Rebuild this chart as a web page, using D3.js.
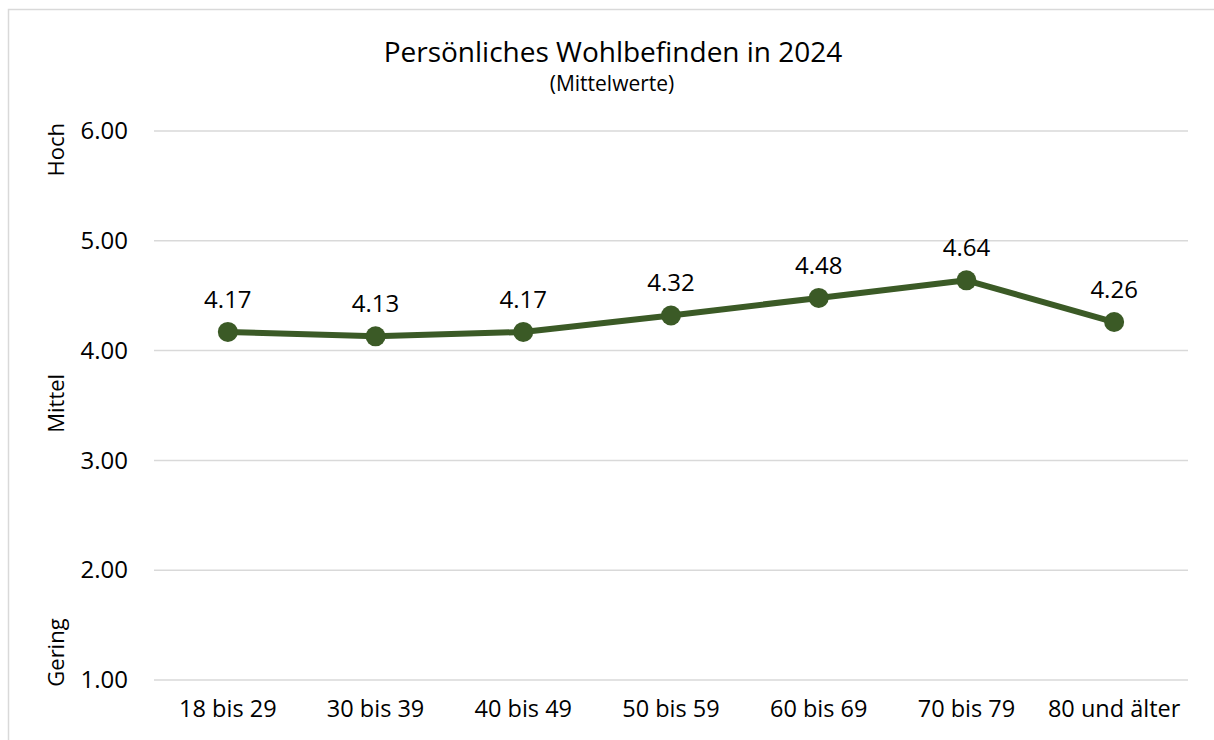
<!DOCTYPE html>
<html>
<head>
<meta charset="utf-8">
<script src="https://cdn.jsdelivr.net/npm/d3@7"></script>
<style>
  html, body { margin: 0; padding: 0; background: #fff; }
  svg { display: block; font-family: "Open Sans", "Noto Sans", sans-serif; }
</style>
</head>
<body>
<svg id="chart" width="1214" height="740"></svg>
<script>
const categories = ["18 bis 29", "30 bis 39", "40 bis 49", "50 bis 59", "60 bis 69", "70 bis 79", "80 und älter"];
const values = [4.17, 4.13, 4.17, 4.32, 4.48, 4.64, 4.26];
const valueLabels = ["4.17", "4.13", "4.17", "4.32", "4.48", "4.64", "4.26"];
const yTicks = [1, 2, 3, 4, 5, 6];
const yLevelLabels = [{text: "Hoch", v: 5.83}, {text: "Mittel", v: 3.52}, {text: "Gering", v: 1.25}];
const titleText = "Persönliches Wohlbefinden in 2024";
const subtitleText = "(Mittelwerte)";

const svg = d3.select("#chart");
const W = 1214, H = 740;
const m = {left: 154, right: 26, top: 131, bottom: 60};

// chart border
svg.append("rect").attr("x", 8.5).attr("y", 9.5).attr("width", W + 20).attr("height", H + 20)
  .attr("fill", "none").attr("stroke", "#d9d9d9").attr("stroke-width", 1.5);

const x = d3.scaleBand().domain(categories).range([m.left, W - m.right]);
const y = d3.scaleLinear().domain([1, 6]).range([H - m.bottom, m.top]);

// gridlines
svg.append("g").selectAll("line").data(yTicks).join("line")
  .attr("x1", m.left).attr("x2", W - m.right)
  .attr("y1", d => y(d)).attr("y2", d => y(d))
  .attr("stroke", "#d9d9d9").attr("stroke-width", 1.5);

// y axis labels
const yAxis = d3.axisLeft(y).tickValues(yTicks).tickFormat(d3.format(".2f")).tickSize(0).tickPadding(26);
const gy = svg.append("g").attr("transform", `translate(${m.left},0)`).call(yAxis);
gy.select(".domain").remove();
gy.selectAll("text").attr("font-size", 24).attr("fill", "#000").attr("font-family", "Open Sans");

// x axis labels
const xAxis = d3.axisBottom(x).tickSize(0).tickPadding(20);
const gx = svg.append("g").attr("transform", `translate(0,${H - m.bottom})`).call(xAxis);
gx.select(".domain").remove();
gx.selectAll("text").attr("font-size", 23.5).attr("fill", "#000").attr("font-family", "Open Sans");

// level labels (rotated)
svg.append("g").selectAll("text").data(yLevelLabels).join("text")
  .attr("transform", d => `translate(64,${y(d.v)}) rotate(-90)`)
  .attr("text-anchor", "middle").attr("font-size", 22).attr("fill", "#000")
  .text(d => d.text);

// line
const cx = d => x(d) + x.bandwidth() / 2;
const line = d3.line().x((d, i) => cx(categories[i])).y(d => y(d));
svg.append("path").datum(values).attr("d", line)
  .attr("fill", "none").attr("stroke", "#3b5a26").attr("stroke-width", 6).attr("stroke-linejoin", "round");

svg.append("g").selectAll("circle").data(values).join("circle")
  .attr("cx", (d, i) => cx(categories[i])).attr("cy", d => y(d)).attr("r", 10)
  .attr("fill", "#3b5a26");

// data labels
svg.append("g").selectAll("text").data(values).join("text")
  .attr("x", (d, i) => cx(categories[i])).attr("y", d => y(d) - 24)
  .attr("text-anchor", "middle").attr("font-size", 24).attr("fill", "#000")
  .text((d, i) => valueLabels[i]);

// title
svg.append("text").attr("x", 613).attr("y", 62).attr("text-anchor", "middle")
  .attr("font-size", 28).attr("fill", "#000").text(titleText);
svg.append("text").attr("x", 612).attr("y", 91).attr("text-anchor", "middle")
  .attr("font-size", 21).attr("fill", "#000").text(subtitleText);
</script>
</body>
</html>
